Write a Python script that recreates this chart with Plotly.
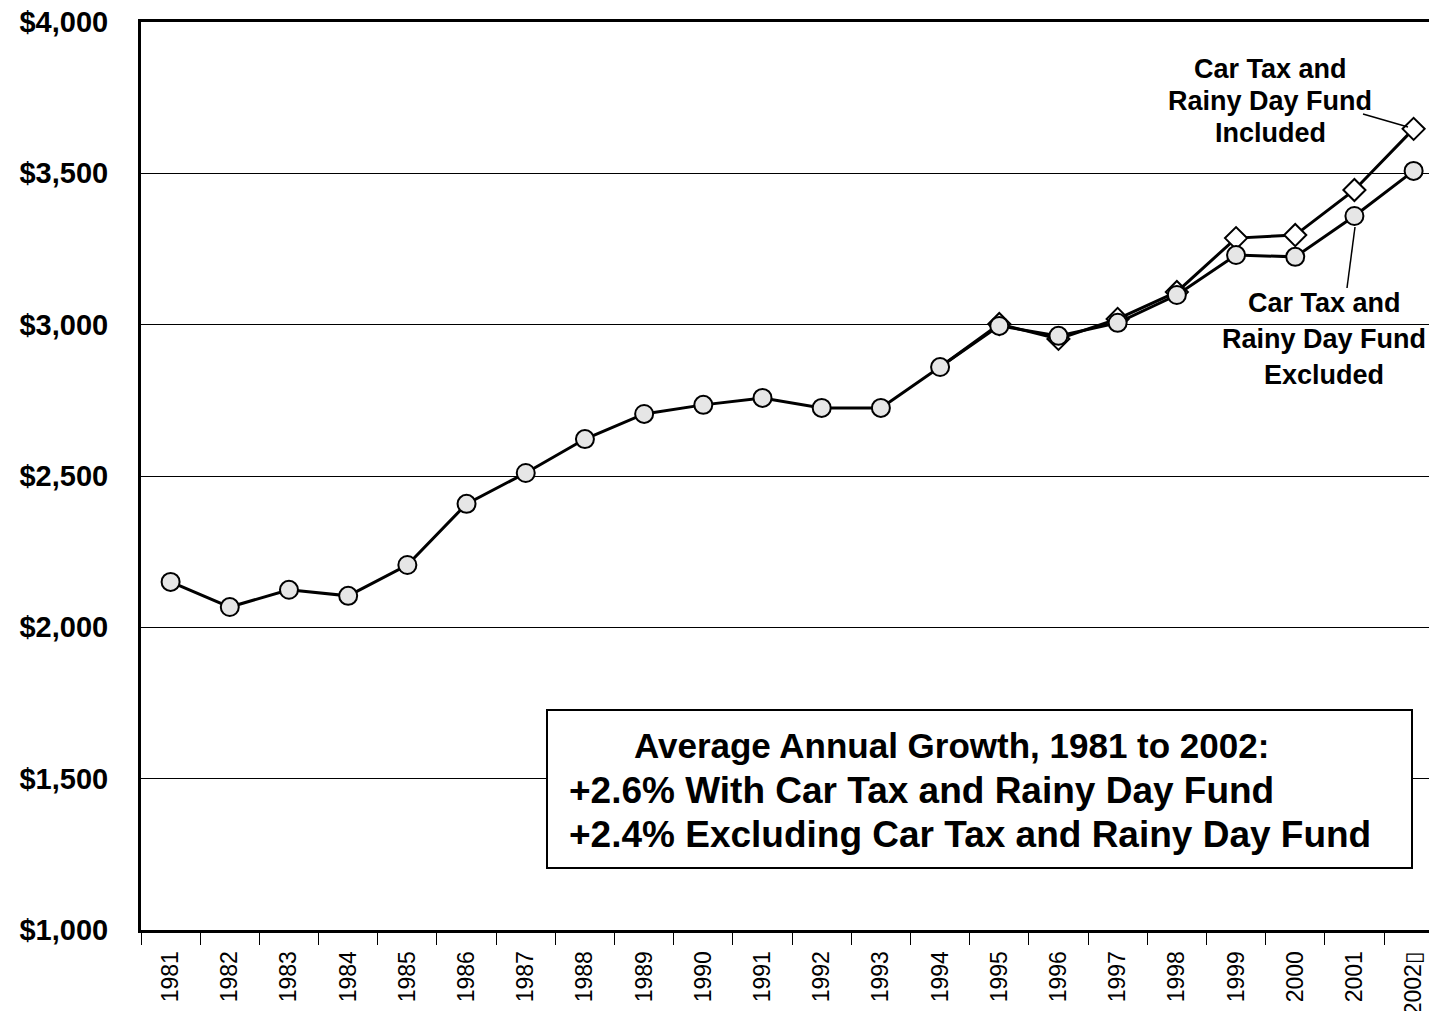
import plotly.graph_objects as go

years = ["1981", "1982", "1983", "1984", "1985", "1986", "1987", "1988", "1989", "1990", "1991",
         "1992", "1993", "1994", "1995", "1996", "1997", "1998", "1999", "2000", "2001", "2002\u25af"]

excluded = [2150, 2067, 2124, 2104, 2206, 2408, 2510, 2622, 2705, 2735, 2758,
            2725, 2725, 2860, 2996, 2963, 3006, 3098, 3230, 3224, 3359, 3508]

included = [None, None, None, None, None, None, None, None, None, None, None,
            None, None, 2860, 3002, 2953, 3019, 3108, 3286, 3296, 3445, 3647]

y_ticks = [1000, 1500, 2000, 2500, 3000, 3500, 4000]
y_tick_text = ["$1,000", "$1,500", "$2,000", "$2,500", "$3,000", "$3,500", "$4,000"]

FONT = "Liberation Sans, Arial, Helvetica, sans-serif"

fig = go.Figure()
fig.add_trace(go.Scatter(
    x=years, y=included, mode="lines+markers",
    line=dict(color="black", width=3),
    marker=dict(symbol="diamond", size=17, color="white", line=dict(color="black", width=2),
                opacity=[0] * 14 + [1] * 8),
    showlegend=False, cliponaxis=False))
fig.add_trace(go.Scatter(
    x=years, y=excluded, mode="lines+markers",
    line=dict(color="black", width=3),
    marker=dict(symbol="circle", size=18, color="#e6e6e6", line=dict(color="black", width=2)),
    showlegend=False, cliponaxis=False))

# plot area in pixels: left 141, right 1429, top 22, bottom 930
L, R, T, B = 141, 1429, 22, 930
def px(x):
    return (x - L) / (R - L)
def py(y):
    return (B - y) / (B - T)

annots = []
for txt, x, y in [("Car Tax and", 1270, 69), ("Rainy Day Fund", 1270, 101), ("Included", 1270, 133),
                  ("Car Tax and", 1324, 303), ("Rainy Day Fund", 1324, 339), ("Excluded", 1324, 375)]:
    annots.append(dict(text=txt, x=px(x), y=py(y), xref="paper", yref="paper",
                       xanchor="center", yanchor="middle", showarrow=False,
                       font=dict(family=FONT, size=27, color="black", weight="bold")))

for txt, x, y, s in [("Average Annual Growth, 1981 to 2002:", 632, 745, 35),
                     ("+2.6% With Car Tax and Rainy Day Fund", 567, 790, 37),
                     ("+2.4% Excluding Car Tax and Rainy Day Fund", 567, 834, 37)]:
    annots.append(dict(text=txt, x=px(x), y=py(y), xref="paper", yref="paper",
                       xanchor="left", yanchor="middle", showarrow=False,
                       font=dict(family=FONT, size=s, color="black", weight="bold")))

shapes = [
    dict(type="rect", xref="paper", yref="paper", x0=px(547), x1=px(1412), y0=py(868), y1=py(710),
         fillcolor="white", line=dict(color="black", width=2), layer="above"),
    dict(type="line", xref="paper", yref="paper", x0=px(1363), y0=py(114), x1=px(1408), y1=py(127),
         line=dict(color="black", width=1.5)),
    dict(type="line", xref="paper", yref="paper", x0=px(1347), y0=py(288), x1=px(1355), y1=py(227),
         line=dict(color="black", width=1.5)),
]

fig.update_layout(
    width=1429, height=1011,
    margin=dict(l=L, r=0, t=T, b=1011 - B, pad=0, autoexpand=False),
    paper_bgcolor="white", plot_bgcolor="white",
    font=dict(family=FONT, color="black"),
    annotations=annots, shapes=shapes,
    xaxis=dict(type="category", range=[-0.5, 21.26], tickson="boundaries", automargin=False,
               ticks="outside", ticklen=12, tickwidth=1, tickcolor="black",
               ticklabelstandoff=9,
               tickangle=-90, tickfont=dict(family=FONT, size=23, color="black"),
               showline=True, linecolor="black", linewidth=3, mirror=True,
               showgrid=False, zeroline=False),
    yaxis=dict(range=[1000, 4000], tickvals=y_ticks, ticktext=y_tick_text, automargin=False,
               tickfont=dict(family=FONT, size=29, color="black", weight="bold"),
               ticks="", ticklabelstandoff=24,
               showline=True, linecolor="black", linewidth=3,
               showgrid=True, gridcolor="black", gridwidth=1, zeroline=False),
)

fig.write_html("out.html", config={"displayModeBar": False},
               post_script="document.body.style.margin='0';")
